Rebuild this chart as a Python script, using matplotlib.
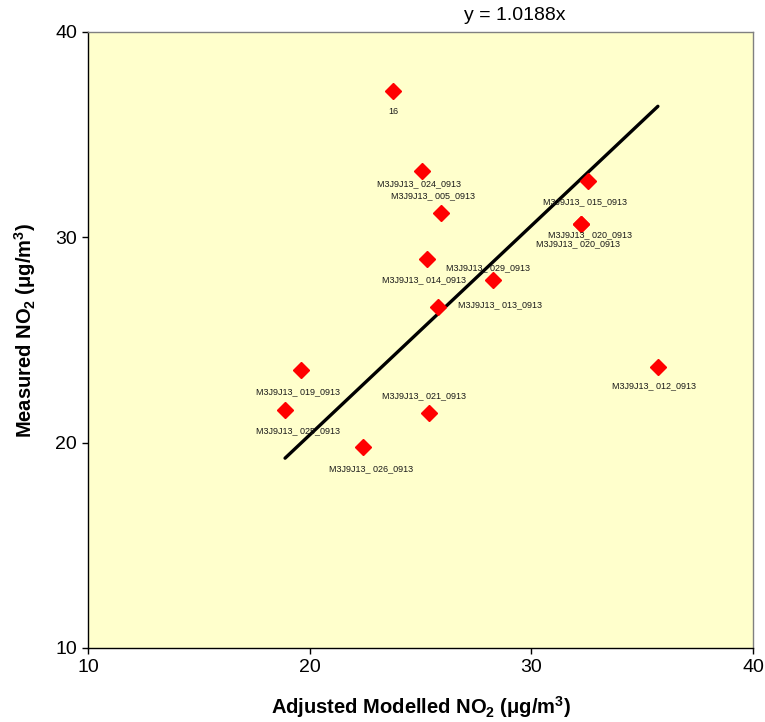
import matplotlib
matplotlib.use("Agg")
import matplotlib.pyplot as plt
from matplotlib import font_manager as fm
import numpy as np

# ---- data ----
modelled = [23.76, 25.07, 25.92, 32.55, 32.24, 32.24, 25.29, 28.27, 25.79, 19.61, 18.89, 25.38, 22.40, 35.71]
measured = [37.13, 33.23, 31.19, 32.75, 30.65, 30.65, 28.95, 27.92, 26.61, 23.54, 21.59, 21.45, 19.79, 23.69]
labels = ["16", "M3J9J13_ 024_0913", "M3J9J13_ 005_0913", "M3J9J13_ 015_0913",
          "M3J9J13_ 020_0913", "M3J9J13_ 020_0913", "M3J9J13_ 014_0913", "M3J9J13_ 029_0913",
          "M3J9J13_ 013_0913", "M3J9J13_ 019_0913", "M3J9J13_ 025_0913", "M3J9J13_ 021_0913",
          "M3J9J13_ 026_0913", "M3J9J13_ 012_0913"]
slope = 1.0188
ticks = [10, 20, 30, 40]

# label offsets in pixels (dx right, dy down)
label_off = [(0, 21), (-3, 13), (-8, -17), (-3, 21), (9, 11), (-3, 20), (-3, 21), (-5, -12),
             (62, -2), (-3, 22), (13, 21), (-5, -17), (8, 22), (-4, 19)]

names = {f.name for f in fm.fontManager.ttflist}
narrow = 'Liberation Sans Narrow' if 'Liberation Sans Narrow' in names else 'Liberation Sans'
plt.rcParams['font.family'] = ['Liberation Sans', 'DejaVu Sans']
plt.rcParams['mathtext.default'] = 'regular'

DPI = 100
fig = plt.figure(figsize=(7.65, 7.22), dpi=DPI)
ax = fig.add_axes([88/765, 1-648/722, (753-88)/765, (648-32)/722])
ax.set_facecolor('#FFFFCC')

ax.set_xlim(10, 40)
ax.set_ylim(10, 40)
ax.set_xticks(ticks)
ax.set_yticks(ticks)
tick_fs = 18 if narrow != 'Liberation Sans' else 14
ax.set_xticklabels([str(t) for t in ticks], family=[narrow, 'DejaVu Sans'], fontsize=tick_fs)
ax.set_yticklabels([str(t) for t in ticks], family=[narrow, 'DejaVu Sans'], fontsize=tick_fs)
ax.tick_params(direction='out', length=4, width=1, color='black', pad=4)

for s in ['top', 'right']:
    ax.spines[s].set_color('#808080')
    ax.spines[s].set_linewidth(1)
for s in ['left', 'bottom']:
    ax.spines[s].set_color('black')
    ax.spines[s].set_linewidth(1)

x = np.array(modelled)
y = np.array(measured)
xl = np.array([x.min(), x.max()])
ax.plot(xl, slope * xl, color='black', lw=2.4, solid_capstyle='round', zorder=2)
ax.plot(x, y, linestyle='none', marker='D', markersize=8.5, color='#FF0000', mec='#FF0000', zorder=3)

for xi, yi, lab, (dx, dy) in zip(x, y, labels, label_off):
    ax.annotate(lab, (xi, yi), xytext=(dx * 72 / DPI, -dy * 72 / DPI), textcoords='offset points',
                ha='center', va='center', fontsize=6.5, color='#1a1a1a', zorder=4)

fig.text(515/765, 1-16/722, 'y = 1.0188x', ha='center', va='center', fontsize=tick_fs,
         family=[narrow, 'DejaVu Sans'])

fig.text(421/765, 1-707/722, r'Adjusted Modelled NO$_2$ (μg/m$^3$)', ha='center', va='center',
         fontsize=14.5, fontweight='bold')
fig.text(25/765, 1-330/722, r'Measured NO$_2$ (μg/m$^3$)', ha='center', va='center',
         fontsize=14.5, fontweight='bold', rotation=90)

fig.savefig('out.png', dpi=DPI, facecolor='white')
